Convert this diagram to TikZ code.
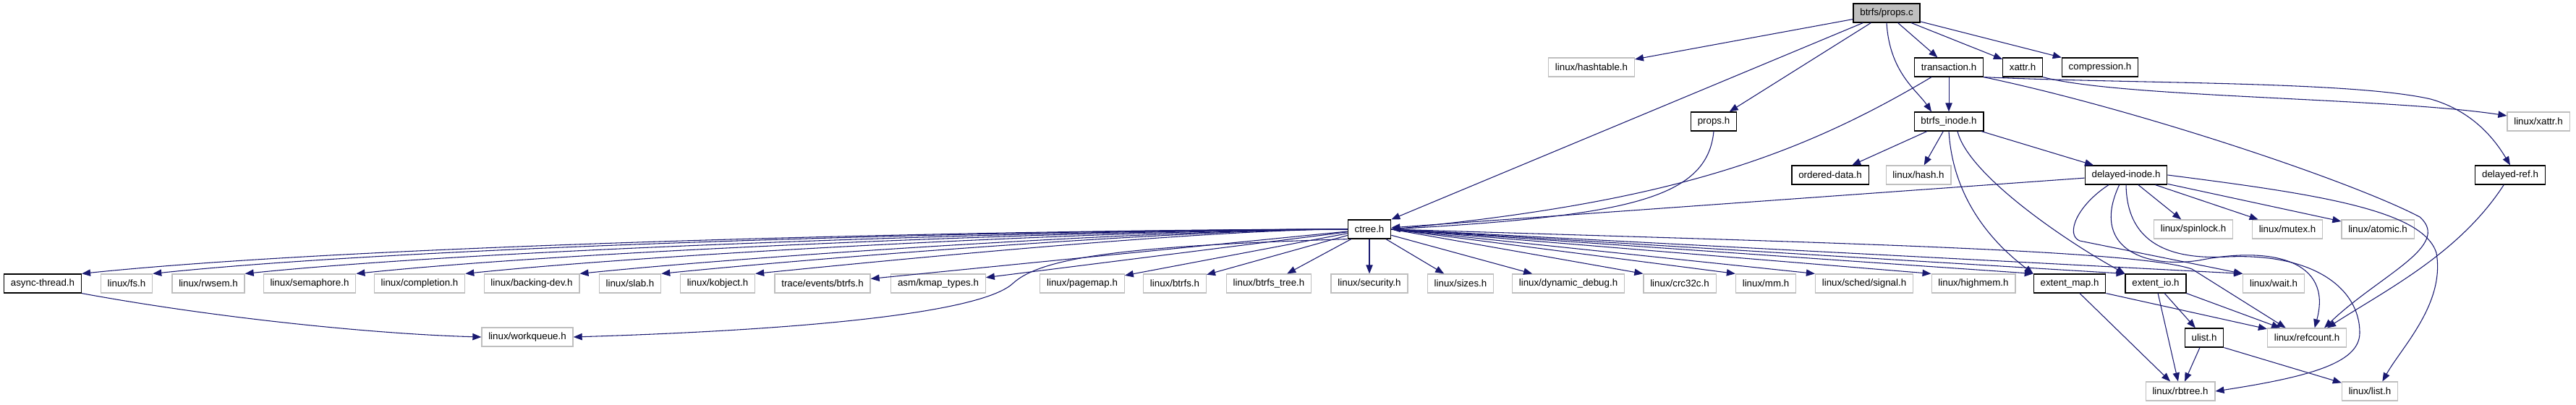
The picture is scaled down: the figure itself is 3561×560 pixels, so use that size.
\documentclass[tikz,border=0pt]{standalone}
\usepackage{fontspec}
\setmainfont{Liberation Sans}
\usetikzlibrary{arrows.meta}
\definecolor{edgeblue}{HTML}{191970}
\definecolor{extgray}{HTML}{BFBFBF}
\tikzset{
    hdr/.style={rectangle,draw=black,fill=white,line width=.9pt,minimum height=19.5pt,inner xsep=7pt,inner ysep=0pt,font=\fontsize{10}{12}\selectfont},
    ext/.style={hdr,draw=extgray},
    root/.style={hdr,fill=extgray},
    dep/.style={draw=edgeblue,->,line width=.8pt},
    every edge/.style={dep},
}
\begin{document}
\begin{tikzpicture}[x=0.75pt,y=-0.75pt,>={Triangle[length=9pt,width=7pt]}]
    \useasboundingbox (0,0) rectangle (3561,560);

    \node[root] (pc) at (2608,18) {btrfs/props.c};
    \node[ext] (hashtbl) at (2200,93) {linux/hashtable.h};
    \node[hdr] (trans) at (2694,93) {transaction.h};
    \node[hdr] (xattr) at (2796,93) {xattr.h};
    \node[hdr] (compr) at (2903,93) {compression.h};
    \node[hdr] (propsh) at (2369,168) {props.h};
    \node[hdr] (binode) at (2694,168) {btrfs\_inode.h};
    \node[ext] (lxattr) at (3509,168) {linux/xattr.h};
    \node[hdr] (ordered) at (2530,242) {ordered-data.h};
    \node[ext] (lhash) at (2652,242) {linux/hash.h};
    \node[hdr] (dinode) at (2939,242) {delayed-inode.h};
    \node[hdr] (dref) at (3470,242) {delayed-ref.h};
    \node[hdr] (ctree) at (1893,317) {ctree.h};
    \node[ext] (spinlock) at (3032,317) {linux/spinlock.h};
    \node[ext] (mutex) at (3162,317) {linux/mutex.h};
    \node[ext] (atomic) at (3287,317) {linux/atomic.h};

    \node[hdr] (async) at (59,392) {async-thread.h};
    \node[ext] (lfs) at (175,392) {linux/fs.h};
    \node[ext] (rwsem) at (288,392) {linux/rwsem.h};
    \node[ext] (sema) at (428,392) {linux/semaphore.h};
    \node[ext] (compl) at (580,392) {linux/completion.h};
    \node[ext] (bdev) at (735,392) {linux/backing-dev.h};
    \node[ext] (slab) at (871,392) {linux/slab.h};
    \node[ext] (kobj) at (992,392) {linux/kobject.h};
    \node[ext] (trace) at (1137,392) {trace/events/btrfs.h};
    \node[ext] (kmap) at (1297,392) {asm/kmap\_types.h};
    \node[ext] (pagemap) at (1496,392) {linux/pagemap.h};
    \node[ext] (lbtrfs) at (1624,392) {linux/btrfs.h};
    \node[ext] (btree) at (1754,392) {linux/btrfs\_tree.h};
    \node[ext] (security) at (1893,392) {linux/security.h};
    \node[ext] (sizes) at (2019,392) {linux/sizes.h};
    \node[ext] (dyndbg) at (2168,392) {linux/dynamic\_debug.h};
    \node[ext] (crc) at (2322,392) {linux/crc32c.h};
    \node[ext] (mm) at (2441,392) {linux/mm.h};
    \node[ext] (signal) at (2577,392) {linux/sched/signal.h};
    \node[ext] (highmem) at (2728,392) {linux/highmem.h};
    \node[hdr] (emap) at (2861,392) {extent\_map.h};
    \node[hdr] (eio) at (2980,392) {extent\_io.h};
    \node[ext] (wait) at (3143,392) {linux/wait.h};

    \node[ext] (wq) at (729,466) {linux/workqueue.h};
    \node[hdr] (ulist) at (3047,467) {ulist.h};
    \node[ext] (refcnt) at (3189,467) {linux/refcount.h};
    \node[ext] (rbtree) at (3014,541) {linux/rbtree.h};
    \node[ext] (llist) at (3276,541) {linux/list.h};

    \path
    (pc) edge (hashtbl)
    (pc) edge (ctree.north east)
    (pc) edge (propsh)
    (pc) edge (trans)
    (pc) edge (xattr)
    (pc) edge (compr)
    (trans) edge (binode)
    (binode) edge (ordered)
    (binode) edge (lhash)
    (binode) edge (dinode)
    (dinode) edge (ctree)
    (dinode) edge (spinlock)
    (dinode) edge (mutex)
    (dinode) edge (atomic)
    (ctree) edge (trace)
    (ctree) edge (kmap)
    (ctree) edge (pagemap)
    (ctree) edge (lbtrfs)
    (ctree) edge (btree)
    (ctree) edge (security)
    (ctree) edge (sizes)
    (ctree) edge (dyndbg)
    (ctree.east) edge (crc.north west)
    (ctree.east) edge (mm.north west)
    (ctree.east) edge (signal.north west)
    (ctree.east) edge (highmem.north west)
    (ctree.east) edge (emap.north west)
    (ctree.east) edge (eio.north west)
    (ctree.east) edge (wait.north west)
    (emap) edge (rbtree)
    (emap.south east) edge (refcnt)
    (eio) edge (rbtree)
    (eio) edge (ulist)
    (eio.south east) edge (refcnt)
    (ulist) edge (rbtree)
    (ulist.south east) edge (llist);

    \draw[dep] (ctree.west) .. controls (1450,317) and (522,336) .. (async.north east);
    \draw[dep] (ctree.west) .. controls (1473,317) and (598,338) .. (lfs.north east);
    \draw[dep] (ctree.west) .. controls (1503,317) and (695,342) .. (rwsem.north east);
    \draw[dep] (ctree.west) .. controls (1539,317) and (812,345) .. (sema.north east);
    \draw[dep] (ctree.west) .. controls (1575,317) and (928,349) .. (compl.north east);
    \draw[dep] (ctree.west) .. controls (1612,317) and (1050,353) .. (bdev.north east);
    \draw[dep] (ctree.west) .. controls (1639,317) and (1137,356) .. (slab.north east);
    \draw[dep] (ctree.west) .. controls (1669,317) and (1237,359) .. (kobj.north east);

    \draw[dep] (pc.south) .. controls (2612,100) and (2650,125) .. ([xshift=-18pt]binode.north);
    \draw[dep] ([xshift=-18pt]trans.south) .. controls (2480,220) and (2300,280) .. (ctree.east);
    \draw[dep] (propsh.south) .. controls (2360,275) and (2250,298) .. (ctree.east);
    \draw[dep] (trans.south east) .. controls (2950,116) and (3250,112) .. (3360,137)
        .. controls (3420,154) and (3450,195) .. (dref.north);
    \draw[dep] (xattr.south east) .. controls (2930,135) and (3300,135) .. ([yshift=6pt]lxattr.west);
    \draw[dep] (trans.south east) .. controls (2950,150) and (3250,250) .. (3345,300)
        .. controls (3390,340) and (3290,380) .. ([xshift=18pt]refcnt.north);
    \draw[dep] (dref) .. controls (3400,350) and (3300,400) .. ([xshift=21pt]refcnt.north);
    \draw[dep] (binode.south) .. controls (2700,280) and (2760,340) .. (emap.north west);
    \draw[dep] ([xshift=9pt]binode.south) .. controls (2720,240) and (2850,330) .. (eio.north west);
    \draw[dep] (dinode.east) .. controls (3200,268) and (3350,290) .. (3368,350)
        .. controls (3380,420) and (3320,480) .. ([xshift=13pt]llist.north);
    \draw[dep] ([xshift=-18pt]dinode.south) .. controls (2870,285) and (2855,325) .. (2875,333)
        -- (wait.north west);
    \draw[dep] ([xshift=-7pt]dinode.south) .. controls (2890,340) and (2960,372) .. (3040,360)
        .. controls (3140,340) and (3225,360) .. ([xshift=8pt]refcnt.north);
    \draw[dep] (dinode.south) .. controls (2940,330) and (2990,360) .. (3080,355)
        .. controls (3200,350) and (3262,400) .. (3262,460)
        .. controls (3262,500) and (3200,520) .. (rbtree.east);
    \draw[dep] (ctree.east) .. controls (2500,335) and (2950,345) .. (3030,372)
        -- ([xshift=-22pt]refcnt.north);
    \draw[dep] (ctree.south west) .. controls (1560,340) and (1440,355) .. (1400,392)
        .. controls (1360,429) and (1150,455) .. (wq.east);
    \draw[dep] (async.south east) .. controls (300,440) and (520,462) .. (wq.west);
\end{tikzpicture}
\end{document}
